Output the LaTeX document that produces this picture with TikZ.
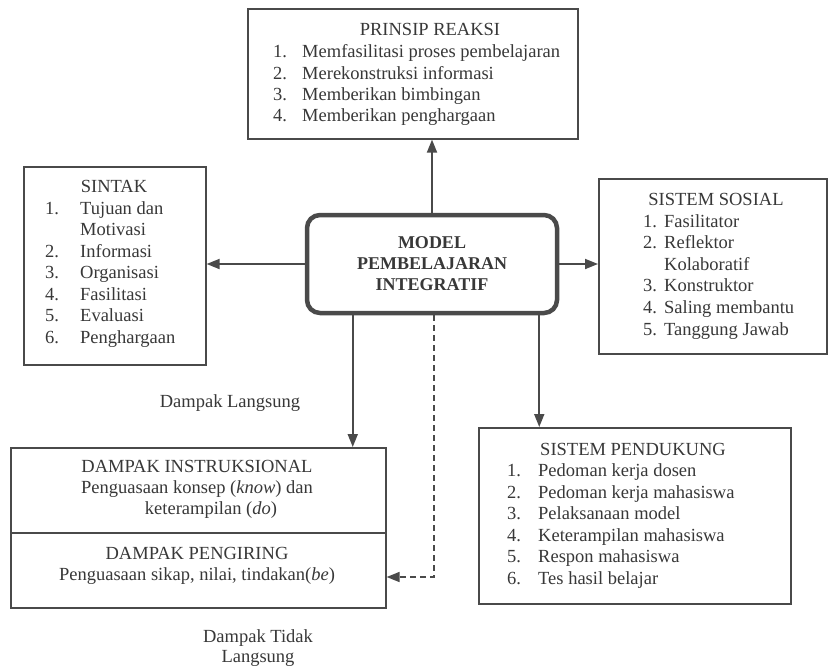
\documentclass[tikz,border=0pt]{standalone}
\usepackage{fontspec}
\setmainfont{Liberation Serif}
\usetikzlibrary{arrows.meta}
\definecolor{ink}{HTML}{383838}
\definecolor{edge}{HTML}{4A4A4A}
\begin{document}
\begin{tikzpicture}[x=1pt,y=-1pt,
  box/.style={draw=edge, line width=1.6pt, anchor=north west, inner sep=0pt},
  txt/.style={text=ink, font=\fontsize{18.5}{21.5}\selectfont, inner sep=0pt},
  item/.style={txt, anchor=mid west},
  head/.style={txt, anchor=mid},
  conn/.style={draw=edge, line width=1.8pt, -{Triangle[length=13pt,width=10pt]}},
]
\useasboundingbox[fill=white] (0,0) rectangle (829,669);

% boxes
\node[box, minimum width=330pt, minimum height=130pt] (top) at (247,8) {};
\node[box, minimum width=182pt, minimum height=198pt] (sintak) at (23,166) {};
\node[box, minimum width=228pt, minimum height=175pt] (sosial) at (598,178) {};
\node[box, minimum width=312pt, minimum height=176pt] (pend) at (478,427) {};
\node[box, minimum width=375pt, minimum height=160pt] (dampak) at (10,447) {};
\node[draw=edge, line width=4.5pt, rounded corners=13pt, minimum width=250pt,
      minimum height=98pt, align=center, text=ink,
      font=\fontsize{18}{21}\selectfont\bfseries] (m) at (432,264)
      {MODEL\\PEMBELAJARAN\\INTEGRATIF};

% divider inside dampak box
\coordinate (divy) at (0,533);
\draw[draw=edge, line width=1.6pt] (dampak.west |- divy) -- (dampak.east |- divy);

% PRINSIP REAKSI
\node[head] (tH) at (430,33) {PRINSIP REAKSI};
\node[item] (t1n) at (273,55) {1.}; \node[item] (t1) at (302,55) {Memfasilitasi proses pembelajaran};
\node[item] (t2n) at (273,77) {2.}; \node[item] (t2) at (302,77) {Merekonstruksi informasi};
\node[item] (t3n) at (273,98) {3.}; \node[item] (t3) at (302,98) {Memberikan bimbingan};
\node[item] (t4n) at (273,119) {4.}; \node[item] (t4) at (302,119) {Memberikan penghargaan};

% SINTAK
\node[head] (sH) at (114,190) {SINTAK};
\node[item] (s1n) at (45,212) {1.}; \node[item] (s1) at (80,212) {Tujuan dan};
\node[item] (s1b) at (80,233) {Motivasi};
\node[item] (s2n) at (45,255) {2.}; \node[item] (s2) at (80,255) {Informasi};
\node[item] (s3n) at (45,276) {3.}; \node[item] (s3) at (80,276) {Organisasi};
\node[item] (s4n) at (45,298) {4.}; \node[item] (s4) at (80,298) {Fasilitasi};
\node[item] (s5n) at (45,319) {5.}; \node[item] (s5) at (80,319) {Evaluasi};
\node[item] (s6n) at (45,341) {6.}; \node[item] (s6) at (80,341) {Penghargaan};

% SISTEM SOSIAL
\node[head] (oH) at (716,203) {SISTEM SOSIAL};
\node[item] (o1n) at (643,225) {1.}; \node[item] (o1) at (664,225) {Fasilitator};
\node[item] (o2n) at (643,246) {2.}; \node[item] (o2) at (664,246) {Reflektor};
\node[item] (o2b) at (664,268) {Kolaboratif};
\node[item] (o3n) at (643,289) {3.}; \node[item] (o3) at (664,289) {Konstruktor};
\node[item] (o4n) at (643,311) {4.}; \node[item] (o4) at (664,311) {Saling membantu};
\node[item] (o5n) at (643,333) {5.}; \node[item] (o5) at (664,333) {Tanggung Jawab};

% SISTEM PENDUKUNG
\node[head] (pH) at (633,453) {SISTEM PENDUKUNG};
\node[item] (p1n) at (507,474) {1.}; \node[item] (p1) at (538,474) {Pedoman kerja dosen};
\node[item] (p2n) at (507,496) {2.}; \node[item] (p2) at (538,496) {Pedoman kerja mahasiswa};
\node[item] (p3n) at (507,517) {3.}; \node[item] (p3) at (538,517) {Pelaksanaan model};
\node[item] (p4n) at (507,539) {4.}; \node[item] (p4) at (538,539) {Keterampilan mahasiswa};
\node[item] (p5n) at (507,560) {5.}; \node[item] (p5) at (538,560) {Respon mahasiswa};
\node[item] (p6n) at (507,582) {6.}; \node[item] (p6) at (538,582) {Tes hasil belajar};

% DAMPAK
\node[head] (d1) at (197,470) {DAMPAK INSTRUKSIONAL};
\node[head] (d2) at (197,491) {Penguasaan konsep (\textit{know}) dan};
\node[head] (d3) at (211,512) {keterampilan (\textit{do})};
\node[head] (d4) at (197,557) {DAMPAK PENGIRING};
\node[head] (d5) at (197,578) {Penguasaan sikap, nilai, tindakan(\textit{be})};

% free labels
\node[head] (lL) at (230,405) {Dampak Langsung};
\node[head] (lT1) at (258,640) {Dampak Tidak};
\node[head] (lT2) at (258,660) {Langsung};

% connectors
\draw[conn] (m.north) -- (m.north |- top.south);
\draw[conn] (m.west) -- (m.west -| sintak.east);
\draw[conn] (m.east) -- (m.east -| sosial.west);
\draw[conn] ([xshift=48pt]m.south west) -- ([xshift=48pt]m.south west |- dampak.north);
\draw[conn] ([xshift=-20pt]m.south east) -- ([xshift=-20pt]m.south east |- pend.north);
\coordinate (dashy) at (0,577);
\draw[conn, line width=1.5pt, dash pattern=on 6pt off 4pt]
  ([xshift=2pt]m.south) |- (dampak.east |- dashy);
\end{tikzpicture}
\end{document}
